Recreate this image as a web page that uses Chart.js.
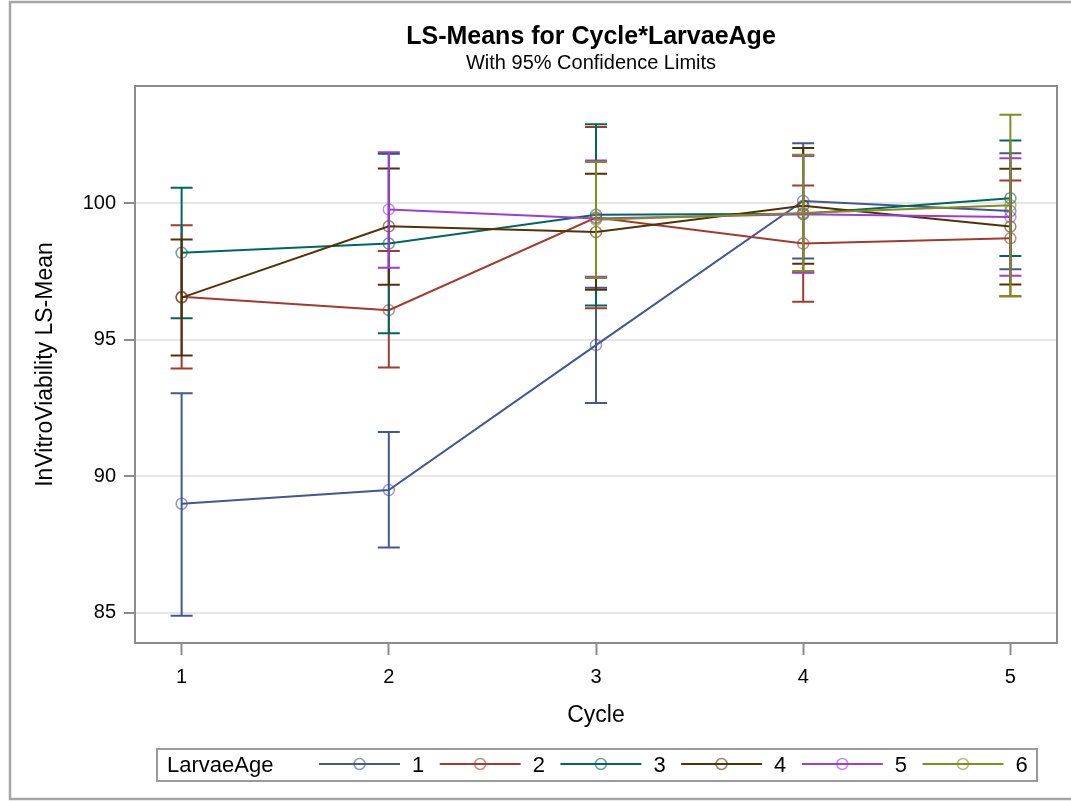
<!DOCTYPE html>
<html>
<head>
<meta charset="utf-8">
<title>LS-Means for Cycle*LarvaeAge</title>
<script src="https://cdn.jsdelivr.net/npm/chart.js@4.4.1/dist/chart.umd.min.js"></script>
<style>
  html, body { margin: 0; padding: 0; background: #fff; }
  canvas { display: block; }
</style>
</head>
<body>
<canvas id="chart" width="1071" height="801"></canvas>
<script>
// Cycle levels on the x axis and the y-axis tick values
const cycles = [1, 2, 3, 4, 5];
const yTicks = [85, 90, 95, 100];

// LarvaeAge groups
const groups = ['1', '2', '3', '4', '5', '6'];
const groupColors = ['#445694', '#A23A2E', '#01665E', '#543005', '#9D3CDB', '#7F8E1F'];
const markerColors = ['rgba(68,86,148,0.6)', 'rgba(162,58,46,0.6)', 'rgba(1,102,94,0.6)',
                      'rgba(84,48,5,0.6)', 'rgba(157,60,219,0.6)', 'rgba(127,142,31,0.6)'];

// LS-means per cycle (null = level not present in that cycle)
const mean1 = [89.00, 89.50, 94.81, 100.09, 99.72];
const mean2 = [96.58, 96.09, 99.48, 98.53, 98.72];
const mean3 = [98.19, 98.53, 99.58, 99.62, 100.19];
const mean4 = [96.55, 99.16, 98.95, 99.91, 99.15];
const mean5 = [null, 99.78, 99.45, 99.60, 99.50];
const mean6 = [null, null, 99.40, 99.65, 99.93];

// Lower 95% confidence limits
const lower1 = [84.90, 87.40, 92.69, 97.98, 97.59];
const lower2 = [93.95, 93.99, 96.16, 96.40, 96.60];
const lower3 = [95.79, 95.24, 96.26, 97.48, 98.07];
const lower4 = [94.43, 97.02, 96.84, 97.79, 97.03];
const lower5 = [null, 97.64, 97.31, 97.46, 97.35];
const lower6 = [null, null, 97.27, 97.52, 96.60];

// Upper 95% confidence limits
const upper1 = [93.05, 91.63, 96.91, 102.20, 101.84];
const upper2 = [99.20, 98.26, 102.80, 100.66, 100.84];
const upper3 = [100.57, 101.82, 102.90, 101.76, 102.30];
const upper4 = [98.68, 101.28, 101.09, 102.03, 101.27];
const upper5 = [null, 101.87, 101.57, 101.74, 101.65];
const upper6 = [null, null, 101.52, 101.78, 103.25];

const means = [mean1, mean2, mean3, mean4, mean5, mean6];
const lowers = [lower1, lower2, lower3, lower4, lower5, lower6];
const uppers = [upper1, upper2, upper3, upper4, upper5, upper6];

const titleText = 'LS-Means for Cycle*LarvaeAge';
const subtitleText = 'With 95% Confidence Limits';
const xTitle = 'Cycle';
const yTitle = 'InVitroViability LS-Mean';
const legendTitle = 'LarvaeAge';

const FONT = '"Liberation Sans", Arial, Helvetica, sans-serif';
const AXIS_GRAY = '#8c8c8c';

const datasets = groups.map((g, k) => ({
  label: g,
  data: cycles.map((c, i) => means[k][i] == null ? null :
        { x: c, y: means[k][i], lower: lowers[k][i], upper: uppers[k][i] }).filter(Boolean),
  borderColor: groupColors[k],
  borderWidth: 2,
  pointStyle: 'circle',
  pointRadius: 5.5,
  pointBorderWidth: 1.5,
  pointBorderColor: markerColors[k],
  pointBackgroundColor: 'rgba(0,0,0,0)',
  tension: 0,
  fill: false,
  // later groups are painted on top
  order: groups.length - k
}));

// Outer border of the graph and the frame around the plot area
const frames = {
  id: 'frames',
  beforeDraw(chart) {
    const ctx = chart.ctx;
    ctx.save();
    ctx.strokeStyle = '#a6a6a6';
    ctx.lineWidth = 2.5;
    ctx.strokeRect(10, 2, chart.width + 20, chart.height - 4);
    ctx.restore();
  },
  beforeDatasetsDraw(chart) {
    const { left, top, right, bottom } = chart.chartArea;
    const ctx = chart.ctx;
    ctx.save();
    ctx.strokeStyle = AXIS_GRAY;
    ctx.lineWidth = 2;
    ctx.strokeRect(left, top, right - left, bottom - top);
    ctx.restore();
  }
};

// Vertical confidence-limit bars with caps, painted just under each group's line
const errorBars = {
  id: 'errorBars',
  beforeDatasetDraw(chart, args) {
    const ds = chart.data.datasets[args.index];
    const xs = chart.scales.x, ys = chart.scales.y;
    const ctx = chart.ctx;
    const cap = 11;
    ctx.save();
    ctx.strokeStyle = ds.borderColor;
    ctx.lineWidth = 2;
    ds.data.forEach(p => {
      const px = xs.getPixelForValue(p.x);
      const lo = ys.getPixelForValue(p.lower);
      const hi = ys.getPixelForValue(p.upper);
      ctx.beginPath();
      ctx.moveTo(px, lo); ctx.lineTo(px, hi);
      ctx.moveTo(px - cap, lo); ctx.lineTo(px + cap, lo);
      ctx.moveTo(px - cap, hi); ctx.lineTo(px + cap, hi);
      ctx.stroke();
    });
    ctx.restore();
  }
};

// Title and subtitle centred over the plot area
const headings = {
  id: 'headings',
  afterDraw(chart) {
    const ctx = chart.ctx;
    const cx = (chart.chartArea.left + chart.chartArea.right) / 2 - 5;
    ctx.save();
    ctx.fillStyle = '#000';
    ctx.textAlign = 'center';
    ctx.textBaseline = 'middle';
    ctx.font = 'bold 25px ' + FONT;
    ctx.fillText(titleText, cx, 37);
    ctx.font = '20px ' + FONT;
    ctx.fillText(subtitleText, cx, 63);
    ctx.restore();
  }
};

// Boxed legend with the group variable name inline
const boxLegend = {
  id: 'boxLegend',
  afterDraw(chart) {
    const ctx = chart.ctx;
    ctx.save();
    ctx.strokeStyle = '#9a9a9a';
    ctx.lineWidth = 2;
    ctx.strokeRect(157, 749, 880, 32);
    ctx.fillStyle = '#000';
    ctx.font = '22px ' + FONT;
    ctx.textAlign = 'left';
    ctx.textBaseline = 'middle';
    ctx.fillText(legendTitle, 167, 766);
    chart.data.datasets.forEach((ds, k) => {
      const x0 = 319 + k * 120.7;
      const y0 = 764;
      ctx.strokeStyle = ds.borderColor;
      ctx.lineWidth = 2;
      ctx.beginPath();
      ctx.moveTo(x0, y0); ctx.lineTo(x0 + 81, y0);
      ctx.stroke();
      ctx.strokeStyle = ds.pointBorderColor;
      ctx.lineWidth = 1.5;
      ctx.beginPath();
      ctx.arc(x0 + 40.5, y0, 5.5, 0, Math.PI * 2);
      ctx.stroke();
      ctx.fillStyle = '#000';
      ctx.fillText(ds.label, x0 + 93, y0 + 2);
    });
    ctx.restore();
  }
};

new Chart(document.getElementById('chart'), {
  type: 'line',
  data: { datasets },
  options: {
    responsive: false,
    animation: false,
    devicePixelRatio: 1,
    layout: { padding: { left: 0, right: 14, top: 86, bottom: 68 } },
    plugins: {
      legend: { display: false },
      title: { display: false },
      tooltip: { enabled: false }
    },
    scales: {
      x: {
        type: 'linear',
        min: 0.775,
        max: 5.225,
        afterBuildTicks: s => { s.ticks = cycles.map(v => ({ value: v })); },
        afterFit: s => { s.height = 90; },
        grid: { drawOnChartArea: false, drawTicks: true, tickLength: 12, tickColor: AXIS_GRAY, tickWidth: 2 },
        border: { color: AXIS_GRAY, width: 2 },
        ticks: { color: '#000', font: { size: 20, family: FONT }, padding: 10, maxRotation: 0 },
        title: { display: true, text: xTitle, color: '#000', font: { size: 23, family: FONT }, padding: { top: 0, bottom: 4 } }
      },
      y: {
        type: 'linear',
        min: 83.9,
        max: 104.3,
        afterBuildTicks: s => { s.ticks = yTicks.map(v => ({ value: v })); },
        afterFit: s => { s.width = 135; },
        grid: { color: '#e6e6e6', lineWidth: 2, drawTicks: true, tickLength: 11, tickColor: AXIS_GRAY, tickWidth: 2 },
        border: { color: AXIS_GRAY, width: 2 },
        ticks: { color: '#000', font: { size: 20, family: FONT }, padding: 8 },
        title: { display: true, text: yTitle, color: '#000', font: { size: 23, family: FONT }, padding: { top: 32, bottom: 0 } }
      }
    }
  },
  plugins: [frames, errorBars, headings, boxLegend]
});
</script>
</body>
</html>
